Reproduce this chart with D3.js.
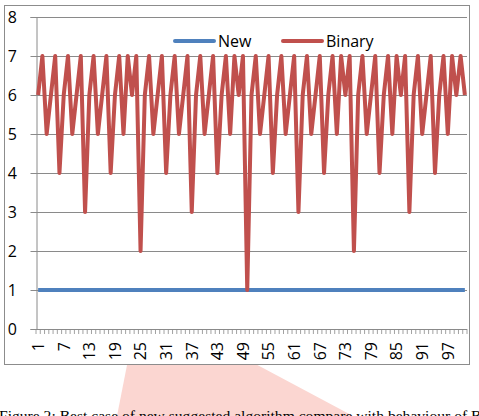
<!DOCTYPE html>
<html>
<head>
<meta charset="utf-8">
<script src="https://cdn.jsdelivr.net/npm/d3@7"></script>
<style>
  body { margin: 0; background: #fff; }
  svg { display: block; }
  text { font-family: "Open Sans", sans-serif; fill: #000; }
</style>
</head>
<body>
<svg id="chart" width="479" height="416"></svg>
<script>
// categories 1..101
const categories = d3.range(1, 102);

const newValues = [
  1,1,1,1,1,1,1,1,1,1, 1,1,1,1,1,1,1,1,1,1,
  1,1,1,1,1,1,1,1,1,1, 1,1,1,1,1,1,1,1,1,1,
  1,1,1,1,1,1,1,1,1,1, 1,1,1,1,1,1,1,1,1,1,
  1,1,1,1,1,1,1,1,1,1, 1,1,1,1,1,1,1,1,1,1,
  1,1,1,1,1,1,1,1,1,1, 1,1,1,1,1,1,1,1,1,1,
  1
];

const binaryValues = [
  6,7,5,6,7,4,6,7,5,6, 7,3,6,7,5,6,7,4,6,7,
  5,7,6,7,2,6,7,5,6,7, 4,6,7,5,6,7,3,6,7,5,
  6,7,4,6,7,5,7,6,7,1, 6,7,5,6,7,4,6,7,5,6,
  7,3,6,7,5,6,7,4,6,7, 5,7,6,7,2,6,7,5,6,7,
  4,6,7,5,7,6,7,3,6,7, 5,6,7,4,6,7,5,7,6,7,
  6
];

const yTicks = [0, 1, 2, 3, 4, 5, 6, 7, 8];
const xTickLabels = d3.range(1, 102, 6);

const seriesNames = ["New", "Binary"];
const seriesColors = ["#4F81BD", "#C0504D"];

const width = 479, height = 416;
const margin = {left: 36, right: 12, top: 17, bottom: 87};
const svg = d3.select("#chart");

// pink watermark behind the chart
svg.append("path")
  .attr("d", "M128,360 L248,360 L353,416 L117,416 Z")
  .attr("fill", "#fbd6d1");

// chart frame
svg.append("rect")
  .attr("x", 4.5).attr("y", 5.5)
  .attr("width", 465).attr("height", 359)
  .attr("fill", "#fff")
  .attr("stroke", "#8c8c8c");

const x = d3.scaleBand()
  .domain(categories)
  .range([margin.left, width - margin.right]);

const y = d3.scaleLinear()
  .domain([0, 8])
  .range([height - margin.bottom, margin.top]);

// gridlines
svg.append("g")
  .selectAll("line")
  .data(yTicks.filter(d => d > 0))
  .join("line")
  .attr("x1", margin.left).attr("x2", width - margin.right)
  .attr("y1", d => Math.round(y(d)) + 0.5).attr("y2", d => Math.round(y(d)) + 0.5)
  .attr("stroke", "#8a8a8a");

// y axis
const yAxis = svg.append("g")
  .attr("transform", `translate(${margin.left + 0.5},0)`)
  .call(d3.axisLeft(y).tickValues(yTicks).tickSize(6).tickFormat(""));
yAxis.select(".domain").attr("stroke", "#8a8a8a");
yAxis.selectAll(".tick line").attr("stroke", "#8a8a8a");

svg.append("g")
  .selectAll("text")
  .data(yTicks)
  .join("text")
  .attr("x", 17)
  .attr("y", d => y(d))
  .attr("dy", "0.36em")
  .attr("text-anchor", "end")
  .style("font-size", "16px")
  .text(d => d);

// x axis: ticks between categories
const x0 = y(0);
const bounds = categories.map(c => x(c)).concat([x(categories[categories.length - 1]) + x.bandwidth()]);
svg.append("line")
  .attr("x1", margin.left).attr("x2", width - margin.right)
  .attr("y1", Math.round(x0) + 0.5).attr("y2", Math.round(x0) + 0.5)
  .attr("stroke", "#8a8a8a");
svg.append("g")
  .selectAll("line")
  .data(bounds)
  .join("line")
  .attr("x1", d => d).attr("x2", d => d)
  .attr("y1", x0).attr("y2", x0 + 5)
  .attr("stroke", "#8a8a8a")
  .attr("stroke-width", 0.8);

svg.append("g")
  .selectAll("text")
  .data(xTickLabels)
  .join("text")
  .attr("transform", d => `translate(${x(d) + x.bandwidth() / 2},342) rotate(-90)`)
  .attr("dy", "0.36em")
  .attr("text-anchor", "end")
  .style("font-size", "16px")
  .text(d => d);

// lines
const cx = d => x(d) + x.bandwidth() / 2;
const line = d3.line()
  .x((d, i) => cx(categories[i]))
  .y(d => y(d));

[newValues, binaryValues].forEach((vals, k) => {
  svg.append("path")
    .datum(vals)
    .attr("fill", "none")
    .attr("stroke", seriesColors[k])
    .attr("stroke-width", 4)
    .attr("stroke-linejoin", "round")
    .attr("d", line);
});

// legend
const legendX = [175, 283];
seriesNames.forEach((name, k) => {
  const g = svg.append("g").attr("transform", `translate(${legendX[k]},41)`);
  g.append("line")
    .attr("x1", 0).attr("x2", 39)
    .attr("stroke", seriesColors[k])
    .attr("stroke-width", 4)
    .attr("stroke-linecap", "round");
  g.append("text")
    .attr("x", 43)
    .attr("dy", "0.36em")
    .style("font-size", "16px")
    .text(name);
});

// caption (cut at the bottom edge, as in the source page)
svg.append("text")
  .attr("x", -1)
  .attr("y", 421)
  .style("font-family", "'Liberation Serif', serif")
  .style("font-size", "15.6px")
  .text("Figure 2: Best case of new suggested algorithm compare with behaviour of B");
</script>
</body>
</html>
